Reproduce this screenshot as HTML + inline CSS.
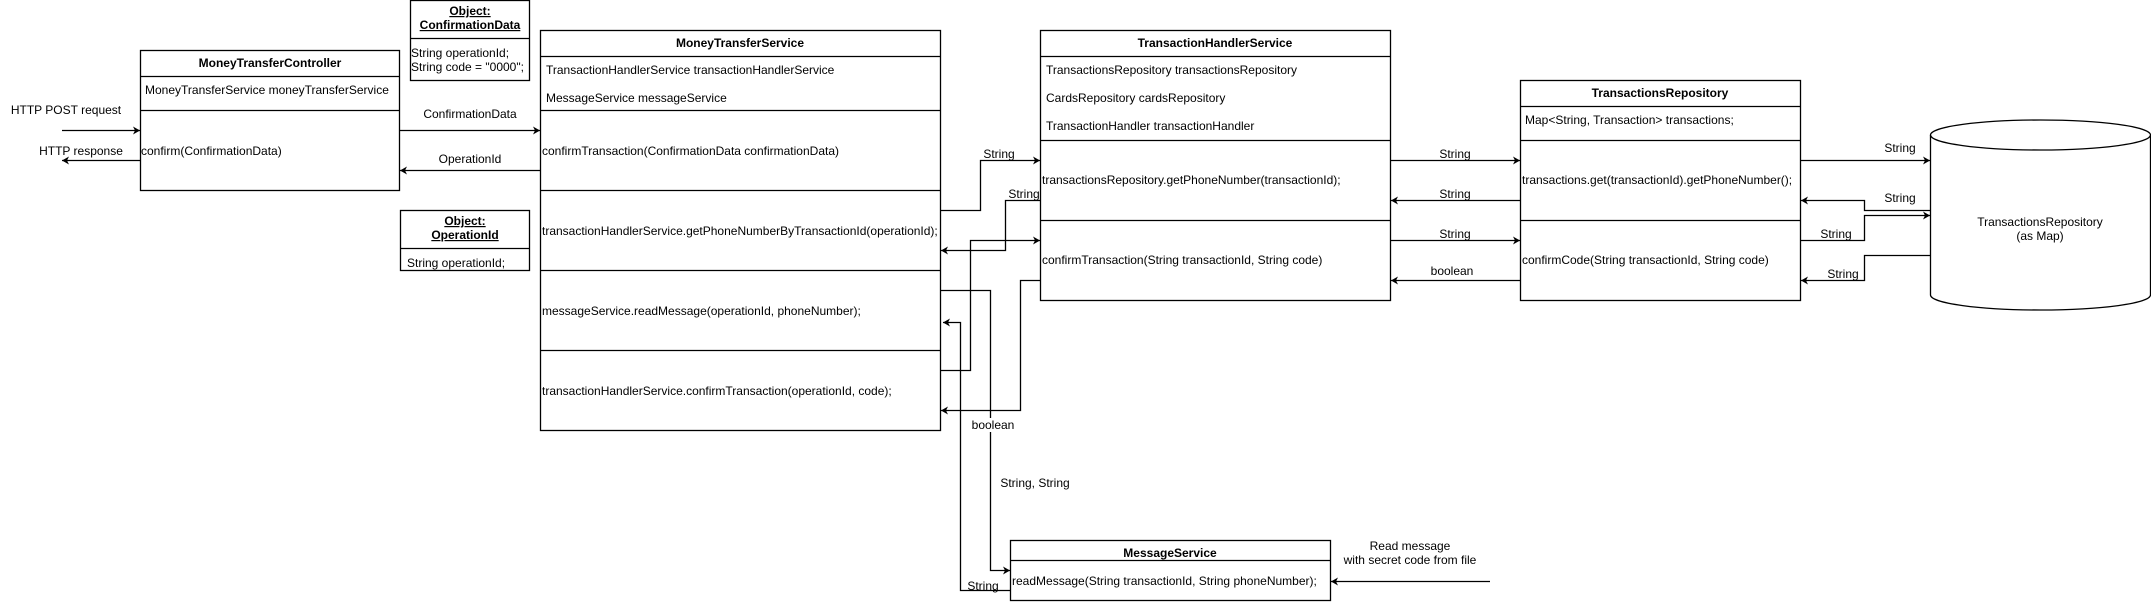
<!DOCTYPE html>
<html><head><meta charset="utf-8"><style>
html,body{margin:0;padding:0;background:#fff;}
svg{display:block;font-family:"Liberation Sans",Arial,sans-serif;font-size:12px;}
text{fill:#000;}
.b{font-weight:bold;}
</style></head><body>
<svg width="2151" height="604" viewBox="0 0 2151 604" xmlns="http://www.w3.org/2000/svg">
<defs>
<marker id="a" markerWidth="10" markerHeight="10" refX="8" refY="5" orient="auto" markerUnits="userSpaceOnUse">
<path d="M1,1 L8,5 L1,9 L3,5 Z" fill="#000"/>
</marker>
</defs>
<g fill="none" stroke="#000" stroke-width="1.3">
<!-- Controller -->
<rect x="140.5" y="50.5" width="259" height="140"/>
<line x1="140" y1="76.5" x2="400" y2="76.5"/>
<line x1="140" y1="110.5" x2="400" y2="110.5"/>
<!-- ConfirmationData -->
<rect x="410.5" y="0.5" width="119" height="80"/>
<line x1="410" y1="38.5" x2="530" y2="38.5"/>
<!-- OperationId -->
<rect x="400.5" y="210.5" width="129" height="60"/>
<line x1="400" y1="248.5" x2="530" y2="248.5"/>
<!-- MoneyTransferService -->
<rect x="540.5" y="30.5" width="400" height="400"/>
<line x1="540" y1="56.5" x2="940" y2="56.5"/>
<line x1="540" y1="110.5" x2="940" y2="110.5"/>
<line x1="540" y1="190.5" x2="940" y2="190.5"/>
<line x1="540" y1="270.5" x2="940" y2="270.5"/>
<line x1="540" y1="350.5" x2="940" y2="350.5"/>
<!-- THS -->
<rect x="1040.5" y="30.5" width="350" height="270"/>
<line x1="1040" y1="56.5" x2="1390" y2="56.5"/>
<line x1="1040" y1="140.5" x2="1390" y2="140.5"/>
<line x1="1040" y1="220.5" x2="1390" y2="220.5"/>
<!-- TR -->
<rect x="1520.5" y="80.5" width="280" height="220"/>
<line x1="1520" y1="106.5" x2="1800" y2="106.5"/>
<line x1="1520" y1="140.5" x2="1800" y2="140.5"/>
<line x1="1520" y1="220.5" x2="1800" y2="220.5"/>
<!-- MessageService -->
<rect x="1010.5" y="540.5" width="320" height="60"/>
<line x1="1010" y1="560.5" x2="1330" y2="560.5"/>
<!-- Cylinder -->
<path d="M1930.5,135 A110,15 0 0 1 2150.5,135 L2150.5,295 A110,15 0 0 1 1930.5,295 Z"/>
<path d="M1930.5,135 A110,15 0 0 0 2150.5,135"/>
</g>
<g fill="none" stroke="#000" stroke-width="1.3" marker-end="url(#a)">
<line x1="62" y1="130.5" x2="140" y2="130.5"/>
<line x1="140" y1="160.5" x2="62" y2="160.5"/>
<line x1="400" y1="130.5" x2="540" y2="130.5"/>
<line x1="540" y1="170.5" x2="400" y2="170.5"/>
<polyline points="940,210.5 980.5,210.5 980.5,160.5 1040,160.5"/>
<polyline points="1040,200.5 1005.5,200.5 1005.5,250.5 941,250.5"/>
<polyline points="940,290.5 990.5,290.5 990.5,570.5 1010,570.5"/>
<polyline points="1010,590.5 960.5,590.5 960.5,322.5 943,322.5"/>
<polyline points="940,370.5 970.5,370.5 970.5,240.5 1040,240.5"/>
<polyline points="1040,280.5 1020.5,280.5 1020.5,410.5 941,410.5"/>
<line x1="1390" y1="160.5" x2="1520" y2="160.5"/>
<line x1="1520" y1="200.5" x2="1391" y2="200.5"/>
<line x1="1390" y1="240.5" x2="1520" y2="240.5"/>
<line x1="1520" y1="280.5" x2="1391" y2="280.5"/>
<line x1="1800" y1="160.5" x2="1930" y2="160.5"/>
<polyline points="1930,210.5 1864.5,210.5 1864.5,200.5 1801,200.5"/>
<polyline points="1800,240.5 1864.5,240.5 1864.5,215.5 1930,215.5"/>
<polyline points="1930,255.5 1864.5,255.5 1864.5,280.5 1801,280.5"/>
<line x1="1490" y1="581.5" x2="1331" y2="581.5"/>
</g>
<!-- label backgrounds -->
<g fill="#fff">
<rect x="968" y="418" width="50" height="14"/>
</g>
<text x="270" y="67" text-anchor="middle" class="b">MoneyTransferController</text>
<text x="145" y="94">MoneyTransferService moneyTransferService</text>
<text x="141" y="155">confirm(ConfirmationData)</text>
<text x="66" y="114" text-anchor="middle">HTTP POST request</text>
<text x="81" y="155" text-anchor="middle">HTTP response</text>
<text x="470" y="15" text-anchor="middle" class="b" text-decoration="underline">Object:</text>
<text x="470" y="29" text-anchor="middle" class="b" text-decoration="underline">ConfirmationData</text>
<text x="411" y="57">String operationId;</text>
<text x="411" y="71">String code = "0000";</text>
<text x="465" y="225" text-anchor="middle" class="b" text-decoration="underline">Object:</text>
<text x="465" y="239" text-anchor="middle" class="b" text-decoration="underline">OperationId</text>
<text x="407" y="267">String operationId;</text>
<text x="470" y="118" text-anchor="middle">ConfirmationData</text>
<text x="470" y="163" text-anchor="middle">OperationId</text>
<text x="740" y="47" text-anchor="middle" class="b">MoneyTransferService</text>
<text x="546" y="74">TransactionHandlerService transactionHandlerService</text>
<text x="546" y="102">MessageService messageService</text>
<text x="542" y="155">confirmTransaction(ConfirmationData confirmationData)</text>
<text x="542" y="235">transactionHandlerService.getPhoneNumberByTransactionId(operationId);</text>
<text x="542" y="315">messageService.readMessage(operationId, phoneNumber);</text>
<text x="542" y="395">transactionHandlerService.confirmTransaction(operationId, code);</text>
<text x="1215" y="47" text-anchor="middle" class="b">TransactionHandlerService</text>
<text x="1046" y="74">TransactionsRepository transactionsRepository</text>
<text x="1046" y="102">CardsRepository cardsRepository</text>
<text x="1046" y="130">TransactionHandler transactionHandler</text>
<text x="1042" y="184">transactionsRepository.getPhoneNumber(transactionId);</text>
<text x="1042" y="264">confirmTransaction(String transactionId, String code)</text>
<text x="1660" y="97" text-anchor="middle" class="b">TransactionsRepository</text>
<text x="1525" y="124">Map&lt;String, Transaction&gt; transactions;</text>
<text x="1522" y="184">transactions.get(transactionId).getPhoneNumber();</text>
<text x="1522" y="264">confirmCode(String transactionId, String code)</text>
<text x="2040" y="226" text-anchor="middle">TransactionsRepository</text>
<text x="2040" y="240" text-anchor="middle">(as Map)</text>
<text x="1170" y="557" text-anchor="middle" class="b">MessageService</text>
<text x="1012" y="585">readMessage(String transactionId, String phoneNumber);</text>
<text x="1410" y="550" text-anchor="middle">Read message</text>
<text x="1410" y="564" text-anchor="middle">with secret code from file</text>
<text x="999" y="158" text-anchor="middle">String</text>
<text x="1024" y="198" text-anchor="middle">String</text>
<text x="993" y="429" text-anchor="middle">boolean</text>
<text x="1035" y="487" text-anchor="middle">String, String</text>
<text x="983" y="590" text-anchor="middle">String</text>
<text x="1455" y="158" text-anchor="middle">String</text>
<text x="1455" y="198" text-anchor="middle">String</text>
<text x="1455" y="238" text-anchor="middle">String</text>
<text x="1452" y="275" text-anchor="middle">boolean</text>
<text x="1900" y="152" text-anchor="middle">String</text>
<text x="1900" y="202" text-anchor="middle">String</text>
<text x="1836" y="238" text-anchor="middle">String</text>
<text x="1843" y="278" text-anchor="middle">String</text>
</svg>
</body></html>
